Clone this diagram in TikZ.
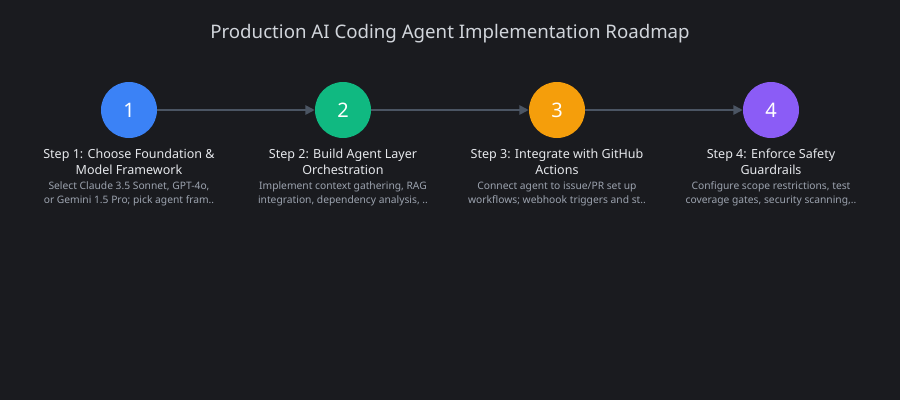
\documentclass[tikz,border=0pt]{standalone}
\usepackage{fontspec}
\setmainfont{Noto Sans}
\usetikzlibrary{arrows.meta}
\definecolor{bg}{HTML}{1A1B1F}
\definecolor{c1}{HTML}{3B82F6}
\definecolor{c2}{HTML}{10B981}
\definecolor{c3}{HTML}{F59E0B}
\definecolor{c4}{HTML}{8B5CF6}
\definecolor{ar}{HTML}{4B5563}
\definecolor{tt}{HTML}{D1D5DB}
\definecolor{st}{HTML}{E5E7EB}
\definecolor{ds}{HTML}{9CA3AF}
\begin{document}
\begin{tikzpicture}[x=0.75pt,y=-0.75pt,
 stepc/.style={circle,minimum size=42pt,inner sep=0pt,text=white,font=\fontsize{15}{18}\selectfont},
 ttl/.style={text=st,align=center,font=\fontsize{9.4}{12}\selectfont},
 dsc/.style={text=ds,align=center,font=\fontsize{7.7}{10.5}\selectfont},
 conn/.style={draw=ar,line width=1.3pt,-{Triangle[length=7pt,width=7pt]}}]
\fill[bg] (0,0) rectangle (900,400);
\node[text=tt,font=\fontsize{14}{16}\selectfont] (title) at (450,34) {Production AI Coding Agent Implementation Roadmap};
\node[stepc,fill=c1] (s1) at (129,110) {1};
\node[stepc,fill=c2] (s2) at (343,110) {2};
\node[stepc,fill=c3] (s3) at (557,110) {3};
\node[stepc,fill=c4] (s4) at (771,110) {4};
\draw[conn] (s1) -- (s2);
\draw[conn] (s2) -- (s3);
\draw[conn] (s3) -- (s4);
\node[ttl] (t1) at (129,162) {Step 1: Choose Foundation \&\\Model Framework};
\node[ttl] (t2) at (343,162) {Step 2: Build Agent Layer\\Orchestration};
\node[ttl] (t3) at (557,162) {Step 3: Integrate with GitHub\\Actions};
\node[ttl] (t4) at (771,162) {Step 4: Enforce Safety\\Guardrails};
\node[dsc] (d1) at (129,194) {Select Claude 3.5 Sonnet, GPT-4o,\\or Gemini 1.5 Pro; pick agent fram..};
\node[dsc] (d2) at (343,194) {Implement context gathering, RAG\\integration, dependency analysis, ..};
\node[dsc] (d3) at (557,194) {Connect agent to issue/PR set up\\workflows; webhook triggers and st..};
\node[dsc] (d4) at (771,194) {Configure scope restrictions, test\\coverage gates, security scanning,..};
\end{tikzpicture}
\end{document}
